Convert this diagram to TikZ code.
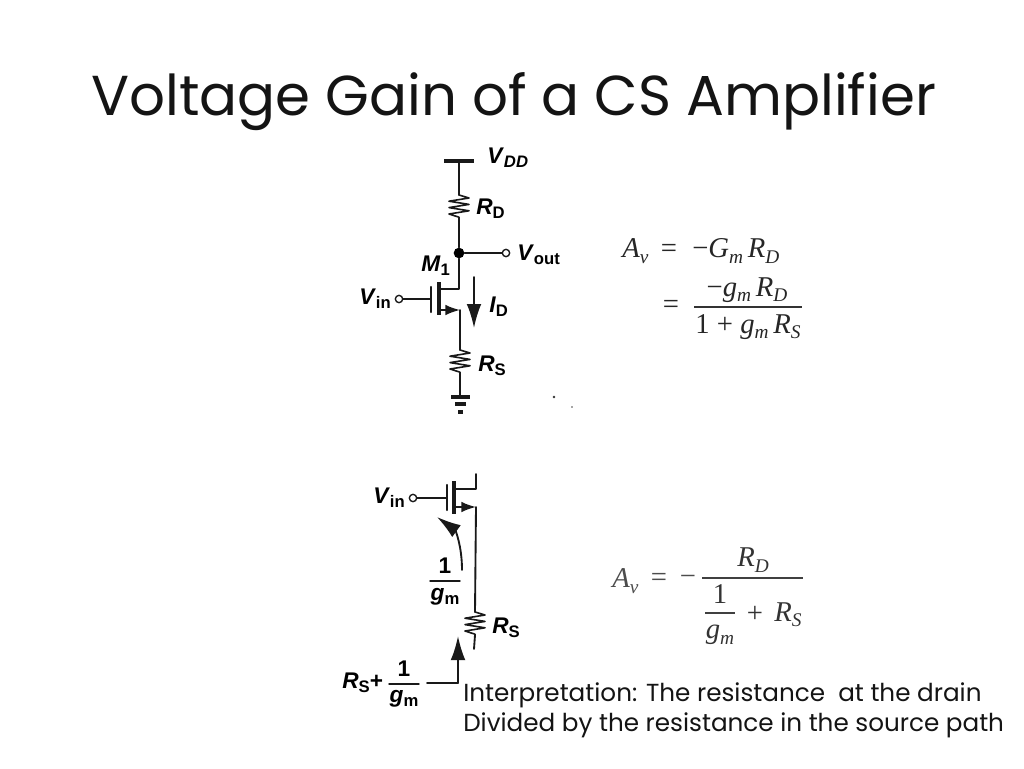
\documentclass[tikz,border=0pt]{standalone}
\usepackage{fontspec}
\setmainfont{Poppins}
\newfontfamily\ckt{Liberation Sans}
\newfontfamily\eqf{Liberation Serif}
\usetikzlibrary{arrows.meta}
\tikzset{
  wire/.style={line width=1.4pt,black!90,line cap=round,line join=round},
  thick bar/.style={line width=2.6pt,black!90},
  pin/.style={circle,draw=black!90,line width=1pt,fill=white,inner sep=0pt,minimum size=5.5pt},
  dotn/.style={circle,fill=black,inner sep=0pt,minimum size=8pt},
  arrowln/.style={wire,-{Latex[length=18pt,width=11pt]}},
  arrowsm/.style={wire,-{Latex[length=11pt,width=8pt]}},
  lab/.style={inner sep=0pt,anchor=west,font=\ckt\bfseries\fontsize{17}{17}\selectfont},
  eq/.style={inner sep=0pt,font=\eqf\fontsize{21.5}{22}\selectfont,text=black!85},
  ttl/.style={inner sep=0pt,anchor=west,font=\fontsize{42.2}{42}\selectfont,text=black!92},
  bodytxt/.style={inner sep=0pt,anchor=west,font=\fontsize{18.5}{18}\selectfont,text=black!92}
}
\newcommand{\lb}[2]{\textit{#1}{\fontsize{12.5}{12.5}\selectfont\raisebox{-3pt}{#2}}}
\newcommand{\es}[2]{\textit{#1}{\fontsize{14.5}{14.5}\selectfont\raisebox{-4pt}{\textit{#2}}}}
\newcommand{\zigres}[3]{% x, ytop, ybot
  \draw[wire,line width=1.2pt] (#1,#2) -- ++(10,3) -- ++(-20,3.2) -- ++(20,3.2) -- ++(-20,3.2) -- ++(20,3.2) -- ++(-20,3.2) -- ++(10,3.2) -- (#1,#3);}
\begin{document}
\begin{tikzpicture}[x=0.75pt,y=-0.75pt]
\useasboundingbox[fill=white] (0,0) rectangle (1024,768);

\node[ttl] (title) at (91,102) {Voltage Gain of a CS Amplifier};

% ---------- upper circuit ----------
\coordinate (vddL) at (444,161); \coordinate (vddR) at (474,161); \coordinate (vddC) at (459,161);
\coordinate (rdT) at (459,195); \coordinate (rdB) at (459,220);
\node[dotn] (jn) at (459,253) {};
\node[pin] (vout) at (506,253) {};
\coordinate (dr) at (459,289); \coordinate (drC) at (440,289);
\coordinate (chT) at (439,282); \coordinate (chB) at (439,315);
\coordinate (gtT) at (431,287); \coordinate (gtB) at (431,312);
\coordinate (gW) at (431,299);
\node[pin] (vinU) at (399,299) {};
\coordinate (srC) at (440,310); \coordinate (sr) at (460,310);
\coordinate (rsT) at (460,350); \coordinate (rsB) at (460,373);
\coordinate (gnd) at (460,397);
\coordinate (idT) at (474,277); \coordinate (idB) at (474,328);

\draw[thick bar] (vddL) -- (vddR);
\draw[wire] (vddC) -- (rdT);
\zigres{459}{195}{220}
\draw[wire] (rdB) -- (jn);
\draw[wire] (jn) -- (vout);
\draw[wire] (jn) -- (dr) -- (drC);
\draw[thick bar] (chT) -- (chB);
\draw[wire,line width=1.8pt] (gtT) -- (gtB);
\draw[wire] (vinU) -- (gW);
\draw[arrowsm] (srC) -- (sr);
\draw[wire] (sr) -- (rsT);
\zigres{460}{350}{373}
\draw[wire] (rsB) -- (gnd);
\draw[thick bar] (451,397) -- (470,397);
\draw[thick bar] (455,404) -- (466,404);
\draw[thick bar] (458,412) -- (463,412);
\draw[arrowln] (idT) -- (idB);

\node[lab] (lvdd) at (487,158) {\textit{V}{\fontsize{12.5}{12.5}\selectfont\raisebox{-3pt}{\textit{DD}}}};
\node[lab] (lrd) at (476,209) {\lb{R}{D}};
\node[lab] (lvout) at (517,255) {\lb{V}{out}};
\node[lab] (lm1) at (421,266) {\lb{M}{1}};
\node[lab] (lvin) at (359,299) {\lb{V}{in}};
\node[lab] (lid) at (489,307) {\lb{I}{D}};
\node[lab] (lrs) at (478,366) {\lb{R}{S}};
\fill[black!80] (554,397) circle (1pt);
\fill[black!70] (572,407) circle (0.6pt);

% ---------- lower circuit ----------
\coordinate (gt2T) at (447,485); \coordinate (gt2B) at (447,510); \coordinate (gW2) at (447,498);
\coordinate (ch2T) at (454,481); \coordinate (ch2B) at (454,514);
\coordinate (dr2C) at (455,489); \coordinate (dr2) at (476,489); \coordinate (dr2T) at (476,474);
\coordinate (sr2C) at (455,507); \coordinate (sr2) at (476,507);
\coordinate (rs2T) at (475,612); \coordinate (rs2B) at (475,635); \coordinate (rs2E) at (474,649);
\node[pin] (vinL) at (413,498) {};
\coordinate (curS) at (462,570); \coordinate (curE) at (437,517);
\coordinate (inS) at (427,683); \coordinate (inC) at (458,683); \coordinate (inE) at (458,636);

\draw[wire,line width=1.8pt] (gt2T) -- (gt2B);
\draw[thick bar] (ch2T) -- (ch2B);
\draw[wire] (vinL) -- (gW2);
\draw[wire] (dr2C) -- (dr2) -- (dr2T);
\draw[arrowsm] (sr2C) -- (sr2);
\draw[wire] (sr2) -- (rs2T);
\zigres{475}{612}{635}
\draw[wire] (rs2B) -- (rs2E);
\draw[wire,-{Latex[length=18pt,width=11pt]}] (curS) .. controls (462,545) and (455,530) .. (curE);
\draw[wire,line width=1.2pt] (inS) -- (inC);
\draw[wire,-{Latex[length=18pt,width=11pt]}] (inC) -- (inE);

\node[lab] (lvin2) at (373,498) {\lb{V}{in}};
\node[lab,anchor=center] (one1) at (445,566) {1};
\draw[wire,line width=1.1pt] (430,581) -- (460,581);
\node[lab,anchor=center] (gm1) at (445,597) {\lb{g}{m}};
\node[lab] (lrs2) at (492,628) {\lb{R}{S}};
\node[lab] (lrsp) at (342,683) {\lb{R}{S}+};
\node[lab,anchor=center] (one2) at (404,669) {1};
\draw[wire,line width=1.1pt] (389,684) -- (419,684);
\node[lab,anchor=center] (gm2) at (404,699) {\lb{g}{m}};

% ---------- equations ----------
\node[eq,anchor=west] (e1) at (622,251) {\es{A}{v}};
\node[eq] (e1e) at (669,251) {=};
\node[eq,anchor=west] (e1r) at (692,251) {\textminus\es{G}{m}\,\es{R}{D}};
\node[eq] (e2e) at (671,307) {=};
\node[eq] (e2n) at (747,290) {\textminus\es{g}{m}\,\es{R}{D}};
\draw[line width=0.9pt,black!80] (694,307) -- (802,307);
\node[eq] (e2d) at (748,327) {1 + \es{g}{m}\,\es{R}{S}};

\node[eq,text=black!70,anchor=west] (e3) at (612,581) {\es{A}{v}};
\node[eq,text=black!70] (e3e) at (659,580) {=};
\node[eq,text=black!70] (e3m) at (688,580) {\textminus};
\draw[line width=0.9pt,black!75] (702,578) -- (803,578);
\node[eq,text=black!80] (e3n) at (753,560) {\es{R}{D}};
\node[eq,text=black!80] (e3o) at (720,594) {1};
\draw[line width=0.9pt,black!75] (705,613) -- (735,613);
\node[eq,text=black!80] (e3g) at (720,635) {\es{g}{m}};
\node[eq,text=black!80] (e3p) at (755,614) {+};
\node[eq,text=black!80] (e3r) at (788,615) {\es{R}{S}};

% ---------- text ----------
\node[bodytxt] (t1) at (463,695) {Interpretation: The resistance\ \ at the drain};
\node[bodytxt] (t2) at (463,725) {Divided by the resistance in the source path};
\end{tikzpicture}
\end{document}
